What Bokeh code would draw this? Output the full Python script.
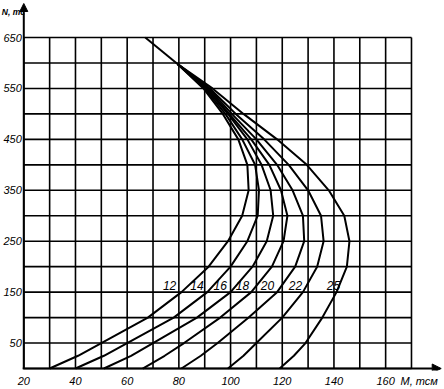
from bokeh.plotting import figure
from bokeh.models import Range1d, FixedTicker, Arrow, NormalHead
from bokeh.core.properties import value
from bokeh.embed import file_html
from bokeh.resources import INLINE

# ---- data ----
N_levels = [0, 25, 50, 100, 150, 200, 250, 300, 350, 400, 450, 500, 550]
curve_12 = [30, 41, 50, 68, 81, 91.5, 99, 104.5, 107, 106.5, 103, 97, 89.5]
curve_14 = [40, 51, 60, 78, 91, 100, 106.5, 110.5, 111, 109.5, 104.5, 98, 90]
curve_16 = [51, 61.5, 70, 87, 100, 108.5, 114, 116.5, 115.5, 112, 106.5, 99, 90.5]
curve_18 = [66, 74.5, 82, 96, 108, 116, 120.5, 122, 119.5, 115, 108, 99.5, 91]
curve_20 = [81, 88.5, 95, 107, 118, 125, 128.5, 128, 124, 118, 110, 100.5, 91.5]
curve_22 = [99, 105, 110, 120, 128, 133.5, 136, 135, 130, 122.5, 113, 102, 92]
curve_25 = [119, 124.5, 129, 135.5, 141, 145, 146, 144, 138, 129.5, 118, 105, 93]
curve_names = ["12", "14", "16", "18", "20", "22", "25"]
curves = [curve_12, curve_14, curve_16, curve_18, curve_20, curve_22, curve_25]

# common upper branch (all curves meet and continue as one straight line)
top_M = [79.5, 67]
top_N = [598, 650]

x_ticks = [20, 40, 60, 80, 100, 120, 140, 160]
y_ticks = [50, 150, 250, 350, 450, 550, 650]
x_title = "M, тсм"
y_title = "N, тс"
grid_M = list(range(20, 171, 10))
grid_N = list(range(0, 651, 50))

# curve label anchors (M, N)
label_M = [76.4, 87, 96, 104.6, 114.3, 125.1, 139.8]
label_N = [163, 163, 163, 163, 163, 163, 163]

FONT = "Liberation Sans"

p = figure(width=444, height=389, x_range=Range1d(10.99, 182), y_range=Range1d(-3.9, 722.7),
           toolbar_location=None, output_backend="svg",
           min_border_left=0, min_border_right=2, min_border_top=0, min_border_bottom=19)
p.outline_line_color = None
p.background_fill_color = "white"
p.border_fill_color = "white"
p.grid.visible = False

# grid
p.segment(x0=grid_M, y0=[0] * len(grid_M), x1=grid_M, y1=[650] * len(grid_M),
          line_color="black", line_width=1.6)
p.segment(x0=[20] * len(grid_N), y0=grid_N, x1=[170] * len(grid_N), y1=grid_N,
          line_color="black", line_width=1.6)

# curves
for c in curves:
    p.line(c + [top_M[0]], N_levels + [top_N[0]], line_color="black", line_width=2,
           line_join="round")
p.line(top_M, top_N, line_color="black", line_width=2)

# curve labels
p.text(x=label_M, y=label_N, text=curve_names, text_align="center", text_baseline="middle",
       text_font=value(FONT), text_font_style="italic", text_font_size="12px",
       text_color="black")

# y axis title next to the arrow tip
p.text(x=[11.5], y=[700], text=[y_title], text_align="left", text_baseline="middle",
       text_font=value(FONT), text_font_style="bold italic", text_font_size="8.5px",
       text_color="black")

# axes (lines drawn as arrows below)
for ax in (p.xaxis[0], p.yaxis[0]):
    ax.axis_line_color = None
    ax.major_tick_line_color = None
    ax.minor_tick_line_color = None
    ax.major_tick_out = 0
    ax.major_tick_in = 0
    ax.minor_tick_out = 0
    ax.minor_tick_in = 0
    ax.major_label_text_font = FONT
    ax.major_label_text_font_style = "italic"
    ax.major_label_text_font_size = "11px"
    ax.major_label_text_color = "black"
p.xaxis.ticker = FixedTicker(ticks=x_ticks + [173])
p.xaxis.major_label_overrides = {173: x_title}
p.xaxis.major_label_standoff = 4
p.yaxis.ticker = FixedTicker(ticks=y_ticks)
p.yaxis.fixed_location = 20
p.yaxis.major_label_standoff = 2

# axis lines with arrow heads
p.add_layout(Arrow(end=NormalHead(size=8, fill_color="black", line_color="black"),
                   x_start=20, y_start=-1, x_end=20, y_end=716.8, line_width=2))
p.add_layout(Arrow(end=NormalHead(size=9, fill_color="black", line_color="black"),
                   x_start=19.6, y_start=0, x_end=181.5, y_end=0, line_width=2))

open("out.html", "w").write(file_html(p, INLINE))
